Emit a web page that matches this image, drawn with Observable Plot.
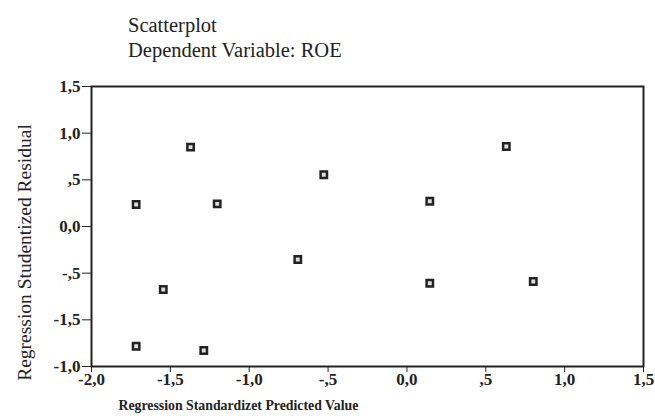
<!DOCTYPE html>
<html>
<head>
<meta charset="utf-8">
<script src="https://cdn.jsdelivr.net/npm/d3@7"></script>
<script src="https://cdn.jsdelivr.net/npm/@observablehq/plot@0.6"></script>
<style>
  html, body { margin: 0; padding: 0; background: #fff; }
  #wrap { width: 655px; height: 420px; overflow: hidden; }
  #titles {
    height: 64px; box-sizing: border-box; padding: 13px 0 0 128px;
    font-family: "Liberation Serif", "DejaVu Serif", serif; font-size: 20.5px;
    line-height: 25px; color: #222;
  }
  svg text { font-family: "Liberation Serif", "DejaVu Serif", serif; }
</style>
</head>
<body>
<div id="wrap">
  <div id="titles"><div>Scatterplot</div><div>Dependent Variable: ROE</div></div>
  <div id="chart"></div>
</div>
<script>
// Standardized predicted value (x) and studentized residual (y) per case
const predicted = [-1.717, -1.372, -1.203, -0.527, 0.145, 0.630, -1.545, -1.288, -0.692, 0.145, 0.801, -1.717];
const residual  = [0.236, 0.850, 0.243, 0.554, 0.271, 0.857, -0.675, -1.329, -0.354, -0.608, -0.589, -1.283];

// Axis ticks and their printed labels
const xTicks = [-2, -1.5, -1, -0.5, 0, 0.5, 1, 1.5];
const xTickLabels = ["-2,0", "-1,5", "-1,0", "-,5", "0,0", ",5", "1,0", "1,5"];
const yTicks = [1.5, 1, 0.5, 0, -0.5, -1, -1.5];
const yTickLabels = ["1,5", "1,0", ",5", "0,0", "-,5", "-1,5", "-1,0"];

const xLabel = "Regression Standardizet Predicted Value";
const yLabel = "Regression Studentized Residual";

const cases = predicted.map((x, i) => ({x, y: residual[i]}));
const ink = "#222";

const chart = Plot.plot({
  width: 655,
  height: 356,
  marginTop: 22,
  marginBottom: 54,
  marginLeft: 91,
  marginRight: 12,
  style: {color: ink, fontSize: "17px", fontFamily: "Liberation Serif, serif", fontWeight: "bold"},
  x: {domain: [-2, 1.5]},
  y: {domain: [-1.5, 1.5]},
  marks: [
    Plot.frame({stroke: ink, strokeWidth: 2}),
    Plot.axisX({
      ticks: xTicks,
      tickFormat: v => xTickLabels[xTicks.indexOf(v)],
      tickSize: 6,
      tickPadding: 0,
      label: null
    }),
    Plot.axisY({
      ticks: yTicks,
      tickFormat: v => yTickLabels[yTicks.indexOf(v)],
      tickSize: 9,
      tickPadding: 2,
      label: null
    }),
    Plot.dot(cases, {
      x: "x", y: "y", symbol: "square", r: 3.6,
      stroke: ink, strokeWidth: 2.5, fill: "#ddd"
    }),
    Plot.text([xLabel], {
      frameAnchor: "bottom-left", dx: 27, dy: 43, textAnchor: "start",
      fontSize: 13.8, fontWeight: "bold", fill: ink
    }),
    Plot.text([yLabel], {
      frameAnchor: "left", rotate: -90, dx: -67, dy: 26, textAnchor: "middle",
      fontSize: 19.5, fontWeight: "normal", fill: ink
    })
  ]
});

document.getElementById("chart").append(chart);
</script>
</body>
</html>
